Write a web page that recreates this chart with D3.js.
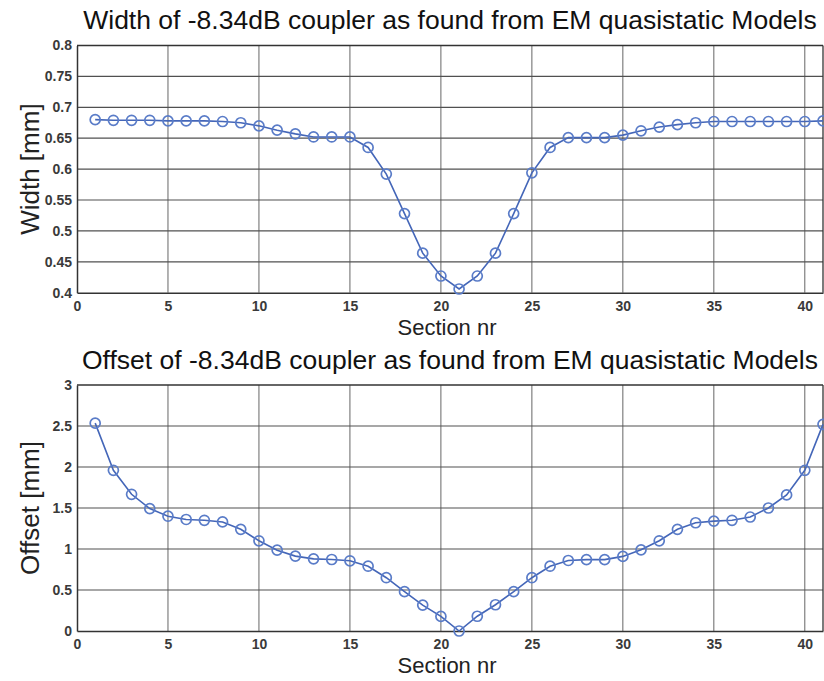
<!DOCTYPE html>
<html>
<head>
<meta charset="utf-8">
<script src="https://cdn.jsdelivr.net/npm/d3@7"></script>
<style>
  html, body { margin: 0; padding: 0; background: #fff; }
  svg { display: block; font-family: "Liberation Sans", Arial, Helvetica, sans-serif; }
</style>
</head>
<body>
<svg id="chart" width="824" height="681"></svg>
<script>
// ---- data ----
const sections = d3.range(1, 42);
const widthValues = [
  0.680, 0.679, 0.679, 0.679, 0.678, 0.678, 0.678, 0.677, 0.675, 0.670,
  0.663, 0.657, 0.652, 0.652, 0.652, 0.635, 0.592, 0.528, 0.464, 0.427,
  0.406, 0.427, 0.464, 0.528, 0.594, 0.635, 0.651, 0.651, 0.651, 0.655,
  0.662, 0.668, 0.672, 0.675, 0.677, 0.677, 0.677, 0.677, 0.677, 0.677, 0.678
];
const offsetValues = [
  2.535, 1.96, 1.667, 1.493, 1.40, 1.36, 1.35, 1.33, 1.24, 1.10,
  0.986, 0.913, 0.88, 0.872, 0.856, 0.79, 0.65, 0.48, 0.316, 0.178,
  0.00, 0.18, 0.32, 0.48, 0.65, 0.79, 0.86, 0.87, 0.87, 0.91,
  0.99, 1.10, 1.24, 1.32, 1.34, 1.35, 1.39, 1.50, 1.66, 1.96, 2.52
];
const xTicks = [0, 5, 10, 15, 20, 25, 30, 35, 40];
const widthTicks = [0.4, 0.45, 0.5, 0.55, 0.6, 0.65, 0.7, 0.75, 0.8];
const widthTickLabels = ["0.4", "0.45", "0.5", "0.55", "0.6", "0.65", "0.7", "0.75", "0.8"];
const offsetTicks = [0, 0.5, 1, 1.5, 2, 2.5, 3];
const offsetTickLabels = ["0", "0.5", "1", "1.5", "2", "2.5", "3"];
const titles = [
  "Width of -8.34dB coupler as found from EM quasistatic Models",
  "Offset of -8.34dB coupler as found from EM quasistatic Models"
];
const yLabels = ["Width [mm]", "Offset [mm]"];
const xLabel = "Section nr";

// ---- drawing ----
const svg = d3.select("#chart");
const left = 77, right = 823;

const panels = [
  { top: 45.5, bottom: 292.7, values: widthValues, domain: [0.4, 0.8], ticks: widthTicks, labels: widthTickLabels, title: titles[0], ylab: yLabels[0] },
  { top: 385, bottom: 631, values: offsetValues, domain: [0, 3], ticks: offsetTicks, labels: offsetTickLabels, title: titles[1], ylab: yLabels[1] }
];

const lineColor = "#4466b8";
const markerColor = "#5a7cc8";
const gridColor = "#505050";

panels.forEach(p => {
  const x = d3.scaleLinear().domain([0, 41]).range([left, right]);
  const y = d3.scaleLinear().domain(p.domain).range([p.bottom, p.top]);
  const g = svg.append("g");

  // grid
  g.append("g").selectAll("line.v").data(xTicks.filter(t => t > 0)).join("line")
    .attr("x1", d => x(d)).attr("x2", d => x(d))
    .attr("y1", p.top).attr("y2", p.bottom)
    .attr("stroke", "#666").attr("stroke-width", 1);
  g.append("g").selectAll("line.h").data(p.ticks.slice(1, -1)).join("line")
    .attr("x1", left).attr("x2", right)
    .attr("y1", d => y(d)).attr("y2", d => y(d))
    .attr("stroke", gridColor).attr("stroke-width", 1.2);

  // axes (border)
  const xAxis = d3.axisBottom(x).tickValues(xTicks).tickSize(0).tickPadding(8).tickFormat(d3.format("d"));
  const gx = g.append("g").attr("transform", `translate(0,${p.bottom})`).call(xAxis);
  gx.select(".domain").attr("stroke", "#333").attr("stroke-width", 1.5);
  gx.selectAll("text").attr("font-size", 14).attr("font-weight", "bold").attr("fill", "#3a3a3a")
    .attr("font-family", "'Liberation Sans', Arial, sans-serif");

  const yAxis = d3.axisLeft(y).tickValues(p.ticks).tickSize(0).tickPadding(5)
    .tickFormat((d, i) => p.labels[i]);
  const gy = g.append("g").attr("transform", `translate(${left},0)`).call(yAxis);
  gy.select(".domain").attr("stroke", "#333").attr("stroke-width", 1.5);
  gy.selectAll("text").attr("font-size", 14).attr("font-weight", "bold").attr("fill", "#3a3a3a")
    .attr("font-family", "'Liberation Sans', Arial, sans-serif");

  // top and right border
  g.append("line").attr("x1", left).attr("x2", right).attr("y1", p.top).attr("y2", p.top)
    .attr("stroke", "#333").attr("stroke-width", 1.3);
  g.append("line").attr("x1", right).attr("x2", right).attr("y1", p.top).attr("y2", p.bottom)
    .attr("stroke", "#333").attr("stroke-width", 1.3);

  // line
  const line = d3.line().x((d, i) => x(sections[i])).y(d => y(d));
  g.append("path").datum(p.values).attr("d", line)
    .attr("fill", "none").attr("stroke", lineColor).attr("stroke-width", 1.6);

  // markers
  g.append("g").selectAll("circle").data(p.values).join("circle")
    .attr("cx", (d, i) => x(sections[i])).attr("cy", d => y(d)).attr("r", 5)
    .attr("fill", "none").attr("stroke", markerColor).attr("stroke-width", 1.7);

  // title
  g.append("text").attr("x", (left + right) / 2).attr("y", p.top - 16.5)
    .attr("text-anchor", "middle").attr("font-size", 26.5).attr("fill", "#111")
    .text(p.title);

  // x label
  g.append("text").attr("x", 447).attr("y", p.bottom + 42)
    .attr("text-anchor", "middle").attr("font-size", 22).attr("fill", "#222")
    .text(xLabel);

  // y label
  g.append("text")
    .attr("transform", `translate(39,${(p.top + p.bottom) / 2}) rotate(-90)`)
    .attr("text-anchor", "middle").attr("font-size", 26).attr("fill", "#222")
    .text(p.ylab);
});
</script>
</body>
</html>
